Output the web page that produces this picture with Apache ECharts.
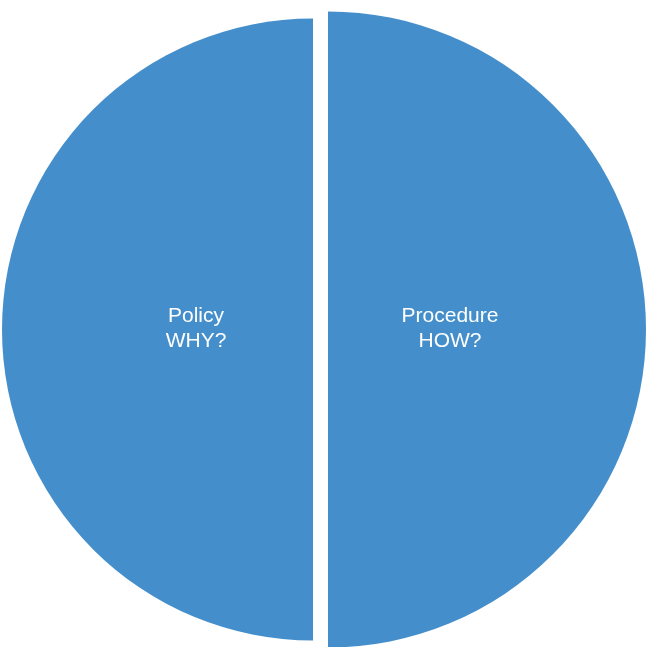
<!DOCTYPE html>
<html>
<head>
<meta charset="utf-8">
<script src="https://cdn.jsdelivr.net/npm/echarts@6/dist/echarts.min.js"></script>
<style>
html,body{margin:0;padding:0;background:#fff;}
#c{width:646px;height:647px;}
</style>
</head>
<body>
<div id="c"></div>
<script>
const categories = ['Policy\nWHY?', 'Procedure\nHOW?'];
const values = [50, 50];
const sliceColor = '#448FCB';

const chart = echarts.init(document.getElementById('c'));
const hidden = { color: 'rgba(0,0,0,0)' };

function halfData(showIndex) {
  return categories.map((name, i) => ({
    name: name,
    value: values[i],
    itemStyle: i === showIndex ? { color: sliceColor } : hidden
  }));
}

chart.setOption({
  animation: false,
  backgroundColor: '#ffffff',
  series: [
    {
      type: 'pie',
      center: [313, 329.5],
      radius: 311,
      startAngle: 90,
      clockwise: false,
      silent: true,
      label: { show: false },
      labelLine: { show: false },
      data: halfData(0)
    },
    {
      type: 'pie',
      center: [328, 329.5],
      radius: 318,
      startAngle: 90,
      clockwise: false,
      silent: true,
      label: { show: false },
      labelLine: { show: false },
      data: halfData(1)
    },
    {
      type: 'pie',
      center: [323, 329],
      radius: 248,
      startAngle: 90,
      clockwise: false,
      silent: true,
      itemStyle: { color: 'rgba(0,0,0,0)' },
      label: {
        show: true,
        position: 'inside',
        color: '#ffffff',
        fontFamily: 'Liberation Sans, Arial, Helvetica, sans-serif',
        fontSize: 21,
        lineHeight: 25,
        formatter: '{b}'
      },
      labelLine: { show: false },
      data: categories.map((name, i) => ({ name: name, value: values[i] }))
    }
  ]
});
</script>
</body>
</html>
